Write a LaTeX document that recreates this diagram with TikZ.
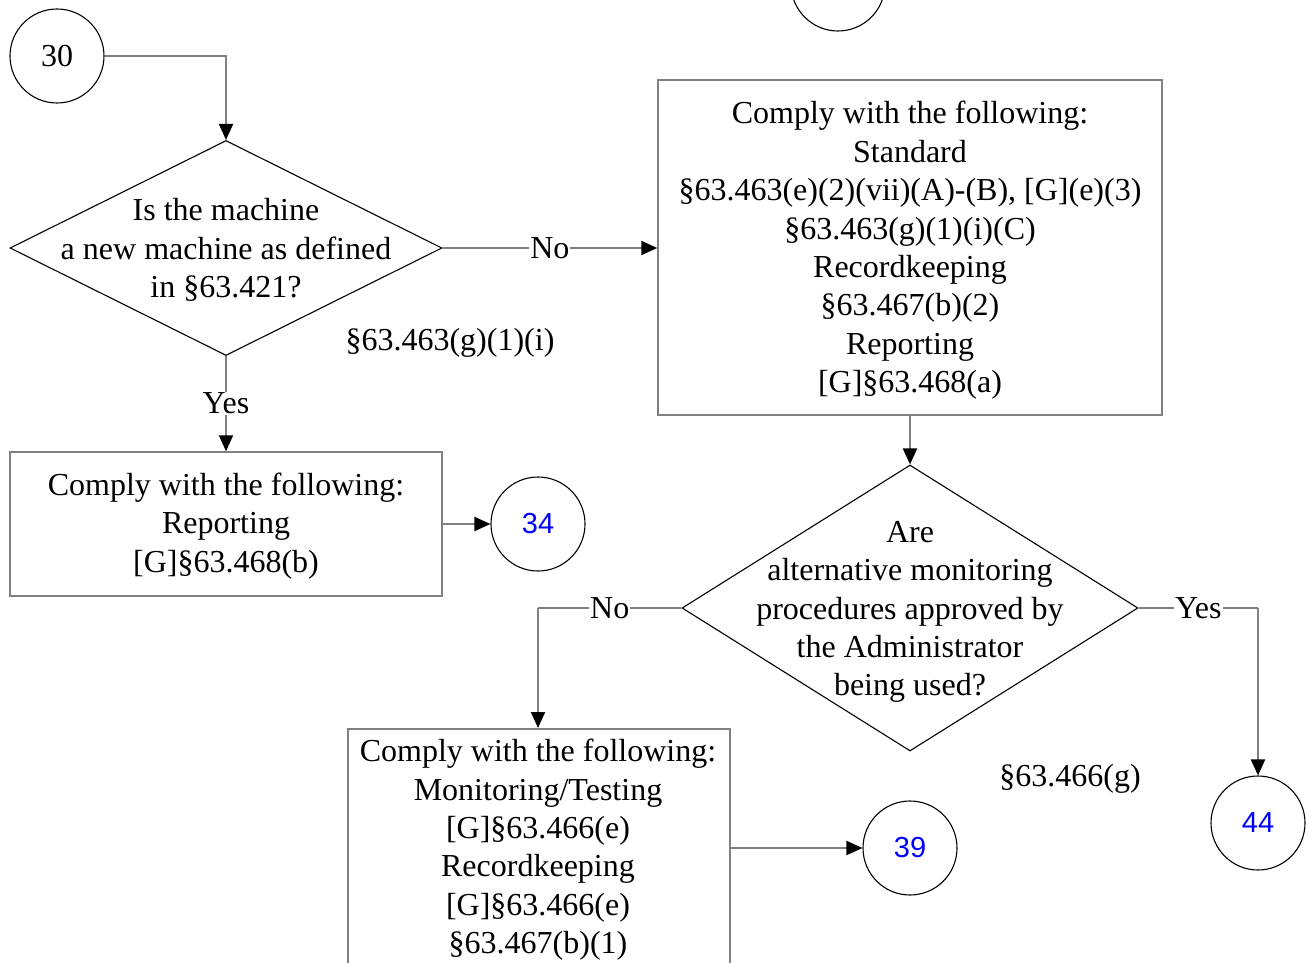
\documentclass[tikz,border=0pt]{standalone}
\usepackage{fontspec}
\setmainfont{Liberation Serif}
\newfontfamily\numfont{Liberation Sans}
\usetikzlibrary{shapes.geometric,arrows.meta}
\definecolor{lgray}{HTML}{808080}
\definecolor{numblue}{HTML}{0000FF}
\tikzset{
  txt/.style={font=\fontsize{32}{38.4}\selectfont, align=center, inner sep=0pt},
  box/.style={draw=lgray, line width=1.5pt, inner sep=0pt},
  circ/.style={draw=black, line width=1.1pt, circle, minimum size=94pt, inner sep=0pt, font=\fontsize{32}{38.4}\selectfont},
  bluenum/.style={circ, text=numblue, font=\numfont\fontsize{29}{34}\selectfont},
  dia/.style={draw=black, line width=1.1pt, diamond, inner sep=0pt},
  conn/.style={draw=lgray, line width=2pt, -{Triangle[length=16pt,width=14pt,fill=black,color=black]}},
  plainconn/.style={draw=lgray, line width=2pt},
  lab/.style={font=\fontsize{32}{38.4}\selectfont, fill=white, inner sep=1pt},
}
\begin{document}
\begin{tikzpicture}[x=1pt,y=-1pt]
\useasboundingbox (0,0) rectangle (1309,963);

% circles
\node[circ] (c30) at (57,56) {30};
\node[circ] (ctop) at (838,-16) {};
\node[bluenum] (c34) at (538,524) {34};
\node[bluenum] (c39) at (910,848) {39};
\node[bluenum] (c44) at (1258,823) {44};

% diamond 1
\node[dia, minimum width=432pt, minimum height=215pt] (d1) at (226,248) {};
\node[txt] (d1t) at (226,250) {Is the machine\\a new machine as defined\\in §63.421?};

% box 1
\node[box, minimum width=504pt, minimum height=335pt] (b1) at (910,247.5) {};
\node[txt] (b1t) at (910,250.5) {Comply with the following:\\Standard\\§63.463(e)(2)(vii)(A)-(B), {[G]}(e)(3)\\§63.463(g)(1)(i)(C)\\Recordkeeping\\§63.467(b)(2)\\Reporting\\{[G]}§63.468(a)};

% box 2
\node[box, minimum width=432pt, minimum height=144pt] (b2) at (226,524) {};
\node[txt] (b2t) at (226,526) {Comply with the following:\\Reporting\\{[G]}§63.468(b)};

% diamond 2
\node[dia, minimum width=456pt, minimum height=286pt] (d2) at (910,608) {};
\node[txt] (d2t) at (910,612) {Are\\alternative monitoring\\procedures approved by\\the Administrator\\being used?};

% box 3
\node[box, minimum width=382pt, minimum height=300pt, anchor=north west] (b3) at (347,728) {};
\node[txt, anchor=north] (b3t) at (538,739) {Comply with the following:\\Monitoring/Testing\\{[G]}§63.466(e)\\Recordkeeping\\{[G]}§63.466(e)\\§63.467(b)(1)};

% free text
\node[txt] (ref1) at (450,343) {§63.463(g)(1)(i)};
\node[txt] (ref2) at (1070,779) {§63.466(g)};

% connectors
\draw[conn] (c30.east) -| (d1.north);
\draw[conn] (d1.east) -- node[lab] {No} (b1.west |- d1.east);
\draw[conn] (d1.south) -- node[lab, pos=0.5] {Yes} (b2.north);
\draw[conn] (b2.east) -- (c34.west);
\draw[conn] (b1.south) -- (d2.north);
\coordinate (nl) at (538,608);
\draw[plainconn] (d2.west) -- node[lab] {No} (nl);
\draw[conn] (nl) -- (nl |- b3.north);
\coordinate (yr) at (1258,608);
\draw[plainconn] (d2.east) -- node[lab] {Yes} (yr);
\draw[conn] (yr) -- (yr |- c44.north);
\draw[conn] (b3.east |- c39.west) -- (c39.west);
\end{tikzpicture}
\end{document}
